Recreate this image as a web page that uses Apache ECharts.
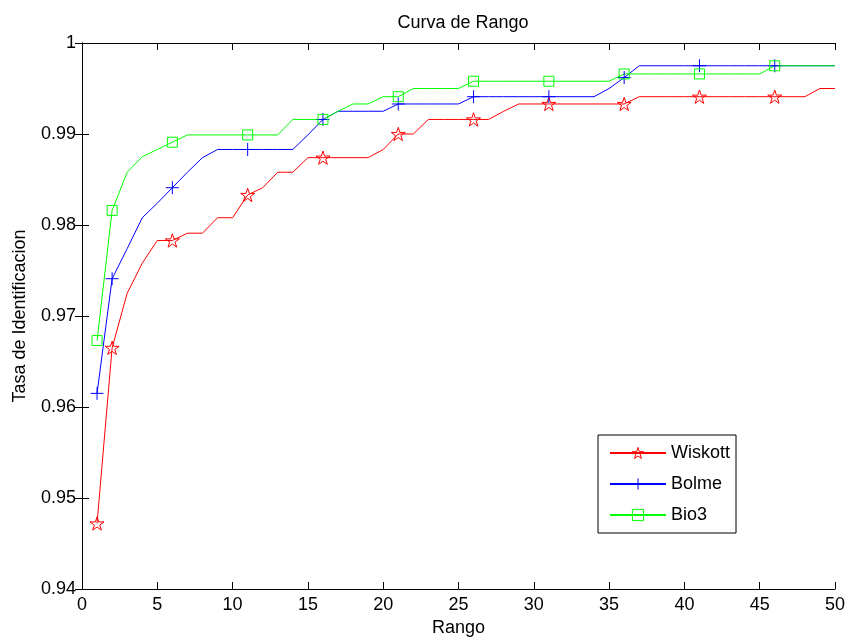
<!DOCTYPE html>
<html>
<head>
<meta charset="utf-8">
<title>Curva de Rango</title>
<script src="https://cdn.jsdelivr.net/npm/echarts@6/dist/echarts.min.js"></script>
<style>
  html, body { margin: 0; padding: 0; background: #fff; }
  #chart { width: 846px; height: 637px; }
</style>
</head>
<body>
<div id="chart"></div>
<script>
// Rank axis (1..50) and identification rate per method
const ranks = Array.from({ length: 50 }, (_, i) => i + 1);

const wiskott = [
  0.9472, 0.9665, 0.9725, 0.9758, 0.9783, 0.9783, 0.9791, 0.9791, 0.9808, 0.9808,
  0.9833, 0.9841, 0.9858, 0.9858, 0.9874, 0.9874, 0.9874, 0.9874, 0.9874, 0.9883,
  0.9900, 0.9900, 0.9916, 0.9916, 0.9916, 0.9916, 0.9916, 0.9925, 0.9933, 0.9933,
  0.9933, 0.9933, 0.9933, 0.9933, 0.9933, 0.9933, 0.9941, 0.9941, 0.9941, 0.9941,
  0.9941, 0.9941, 0.9941, 0.9941, 0.9941, 0.9941, 0.9941, 0.9941, 0.9950, 0.9950
];

const bolme = [
  0.9615, 0.9741, 0.9774, 0.9808, 0.9824, 0.9841, 0.9858, 0.9874, 0.9883, 0.9883,
  0.9883, 0.9883, 0.9883, 0.9883, 0.9899, 0.9916, 0.9925, 0.9925, 0.9925, 0.9925,
  0.9933, 0.9933, 0.9933, 0.9933, 0.9933, 0.9941, 0.9941, 0.9941, 0.9941, 0.9941,
  0.9941, 0.9941, 0.9941, 0.9941, 0.9950, 0.9962, 0.9975, 0.9975, 0.9975, 0.9975,
  0.9975, 0.9975, 0.9975, 0.9975, 0.9975, 0.9975, 0.9975, 0.9975, 0.9975, 0.9975
];

const bio3 = [
  0.9673, 0.9816, 0.9858, 0.9875, 0.9883, 0.9891, 0.9899, 0.9899, 0.9899, 0.9899,
  0.9899, 0.9899, 0.9899, 0.9916, 0.9916, 0.9916, 0.9925, 0.9933, 0.9933, 0.9941,
  0.9941, 0.9950, 0.9950, 0.9950, 0.9950, 0.9958, 0.9958, 0.9958, 0.9958, 0.9958,
  0.9958, 0.9958, 0.9958, 0.9958, 0.9958, 0.9966, 0.9966, 0.9966, 0.9966, 0.9966,
  0.9966, 0.9966, 0.9966, 0.9966, 0.9966, 0.9975, 0.9975, 0.9975, 0.9975, 0.9975
];

// Ranks that carry a marker
const markerRanks = [1, 2, 6, 11, 16, 21, 26, 31, 36, 41, 46];

const FONT = '"Liberation Sans", Arial, Helvetica, sans-serif';
const STAR = 'path://M10,0L12.245,6.91L19.511,6.91L13.633,11.18L15.878,18.09L10,13.82L4.122,18.09L6.367,11.18L0.489,6.91L7.755,6.91Z';
const PLUS = 'path://M0,5L10,5M5,0L5,10';

const COLORS = { Wiskott: '#ff0000', Bolme: '#0000ff', Bio3: '#00ff00' };

function buildData(values) {
  return ranks.map((r, i) =>
    markerRanks.includes(r) ? { value: [r, values[i]] } : { value: [r, values[i]], symbol: 'none' }
  );
}

function hollow(color) {
  return { color: 'rgba(0,0,0,0)', borderColor: color, borderWidth: 1 };
}

function makeSeries(name, values, symbol, size) {
  const color = COLORS[name];
  return {
    name: name,
    type: 'line',
    data: buildData(values),
    symbol: symbol,
    symbolSize: size,
    symbolKeepAspect: true,
    showAllSymbol: true,
    lineStyle: { color: color, width: 1 },
    itemStyle: hollow(color),
    emphasis: { disabled: true },
    animation: false,
    z: 3
  };
}

const chart = echarts.init(document.getElementById('chart'), null, { renderer: 'canvas' });

const axisLineStyle = { show: true, lineStyle: { color: '#000', width: 1 } };
const tickStyle = { show: true, inside: true, length: 7, lineStyle: { color: '#000', width: 1 } };

chart.setOption({
  backgroundColor: '#fff',
  animation: false,
  textStyle: { fontFamily: FONT },
  title: {
    text: 'Curva de Rango',
    left: 458,
    textAlign: 'center',
    top: 9,
    textStyle: { fontFamily: FONT, fontSize: 18, fontWeight: 'normal', color: '#000' }
  },
  grid: { left: 82, right: 11, top: 43, bottom: 48, containLabel: false, outerBoundsMode: 'none' },
  legend: {
    orient: 'vertical',
    left: 598,
    top: 435,
    padding: [9, 6, 9, 11],
    itemWidth: 56,
    itemHeight: 14,
    itemGap: 13,
    borderColor: '#000',
    borderWidth: 1,
    backgroundColor: '#fff',
    textStyle: { fontFamily: FONT, fontSize: 18, color: '#000' },
    selectedMode: false,
    data: ['Wiskott', 'Bolme', 'Bio3'].map(n => ({ name: n, itemStyle: hollow(COLORS[n]) }))
  },
  xAxis: [
    {
      type: 'value',
      min: 0, max: 50, interval: 5,
      name: 'Rango',
      nameLocation: 'middle',
      nameGap: 30,
      nameTextStyle: { fontFamily: FONT, fontSize: 18, color: '#000' },
      axisLine: axisLineStyle,
      axisTick: tickStyle,
      axisLabel: { fontFamily: FONT, fontSize: 18, color: '#000', margin: 7 },
      splitLine: { show: false }
    },
    {
      type: 'value', position: 'top',
      min: 0, max: 50, interval: 5,
      axisLine: axisLineStyle,
      axisTick: tickStyle,
      axisLabel: { show: false },
      splitLine: { show: false }
    }
  ],
  yAxis: [
    {
      type: 'value',
      min: 0.94, max: 1, interval: 0.01,
      name: 'Tasa de Identificacion',
      nameLocation: 'middle',
      nameGap: 53,
      nameTextStyle: { fontFamily: FONT, fontSize: 18, color: '#000' },
      axisLine: axisLineStyle,
      axisTick: tickStyle,
      axisLabel: {
        fontFamily: FONT, fontSize: 18, color: '#000', margin: 6,
        formatter: v => (Math.abs(v - 1) < 1e-9 ? '1' : v.toFixed(2))
      },
      splitLine: { show: false }
    },
    {
      type: 'value', position: 'right',
      min: 0.94, max: 1, interval: 0.01,
      axisLine: axisLineStyle,
      axisTick: tickStyle,
      axisLabel: { show: false },
      splitLine: { show: false }
    }
  ],
  series: [
    makeSeries('Wiskott', wiskott, STAR, 14),
    makeSeries('Bolme', bolme, PLUS, 13),
    makeSeries('Bio3', bio3, 'rect', 10)
  ]
});
</script>
</body>
</html>
